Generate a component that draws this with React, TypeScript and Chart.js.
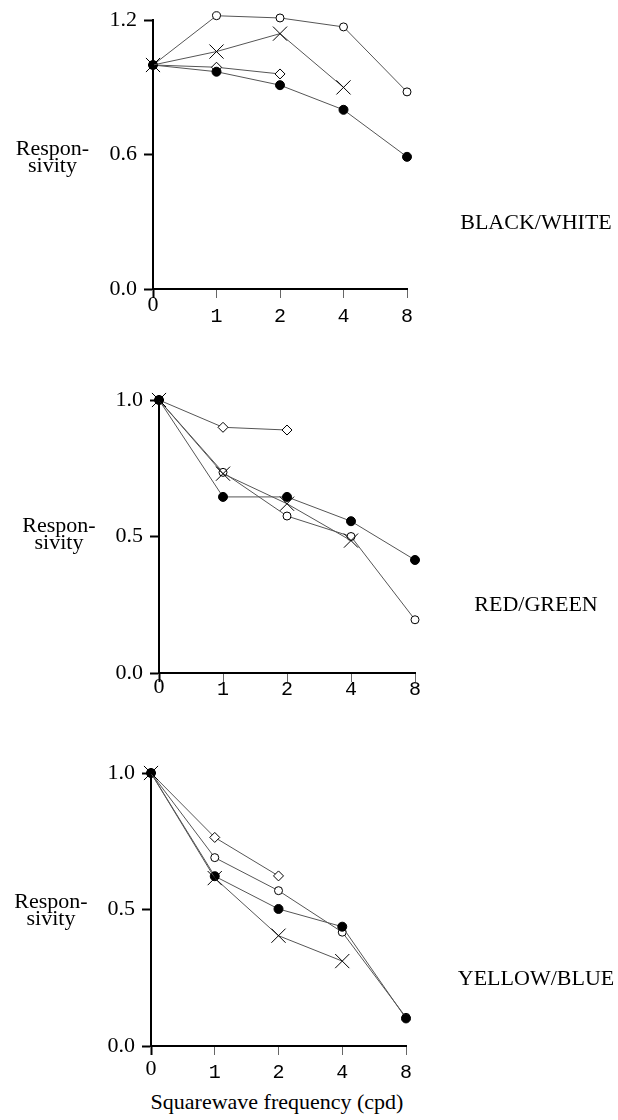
import { useEffect, useRef } from 'react';
import { Chart, registerables } from 'chart.js';

Chart.register(...registerables);

// Spatial frequency categories (cycles per degree)
const frequencies = ['0', '1', '2', '4', '8'];

// BLACK/WHITE responsivity
const bwCross = [1.0, 1.06, 1.14, 0.9, null];
const bwFilled = [1.0, 0.97, 0.91, 0.8, 0.59];
const bwOpen = [1.0, 1.22, 1.21, 1.17, 0.88];
const bwDiamond = [1.0, 0.99, 0.96, null, null];

// RED/GREEN responsivity
const rgCross = [1.0, 0.73, 0.62, 0.485, null];
const rgFilled = [1.0, 0.645, 0.645, 0.556, 0.414];
const rgOpen = [1.0, 0.735, 0.575, 0.5, 0.195];
const rgDiamond = [1.0, 0.9, 0.89, null, null];

// YELLOW/BLUE responsivity
const ybCross = [1.0, 0.615, 0.404, 0.311, null];
const ybFilled = [1.0, 0.622, 0.502, 0.437, 0.101];
const ybOpen = [1.0, 0.69, 0.569, 0.417, 0.105];
const ybDiamond = [1.0, 0.764, 0.623, null, null];

// Y tick values
const bwTicks = [0, 0.6, 1.2];
const colorTicks = [0, 0.5, 1.0];

const SERIF = "'Liberation Serif', 'Times New Roman', serif";
const MONO = "'Liberation Mono', 'Courier New', monospace";

type PanelSpec = {
  title: string;
  series: (number | null)[][];
  yTicks: number[];
  top: number;
  height: number;
  padTop: number;
  axisLeft: number;
  axisRight: number;
  zeroLine: number;
  otherLine: number;
  labelCenterX: number;
  labelBaseline: number;
  titleBaseline: number;
};

const panels: PanelSpec[] = [
  {
    title: 'BLACK/WHITE',
    series: [bwCross, bwFilled, bwOpen, bwDiamond],
    yTicks: bwTicks,
    top: 0, height: 329, padTop: 16,
    axisLeft: 153, axisRight: 407,
    zeroLine: 14, otherLine: 38,
    labelCenterX: 52.5, labelBaseline: 155, titleBaseline: 229.3,
  },
  {
    title: 'RED/GREEN',
    series: [rgCross, rgFilled, rgOpen, rgDiamond],
    yTicks: colorTicks,
    top: 360, height: 353, padTop: 40,
    axisLeft: 159, axisRight: 415,
    zeroLine: 10, otherLine: 16,
    labelCenterX: 59, labelBaseline: 531.7, titleBaseline: 611,
  },
  {
    title: 'YELLOW/BLUE',
    series: [ybCross, ybFilled, ybOpen, ybDiamond],
    yTicks: colorTicks,
    top: 740, height: 346, padTop: 33,
    axisLeft: 151, axisRight: 406,
    zeroLine: 28, otherLine: 36,
    labelCenterX: 51, labelBaseline: 908.3, titleBaseline: 985,
  },
];

const markerStyles = [
  { pointStyle: 'crossRot', pointRadius: 10, pointBackgroundColor: '#000' },
  { pointStyle: 'circle', pointRadius: 4.5, pointBackgroundColor: '#000' },
  { pointStyle: 'circle', pointRadius: 4, pointBackgroundColor: '#fff' },
  { pointStyle: 'rectRot', pointRadius: 5, pointBackgroundColor: '#fff' },
];

function Panel({ spec }: { spec: PanelSpec }) {
  const ref = useRef<HTMLCanvasElement | null>(null);

  useEffect(() => {
    if (!ref.current) return;
    const chart = new Chart(ref.current, {
      type: 'line',
      data: {
        labels: frequencies,
        datasets: spec.series.map((values, i) => ({
          data: values,
          borderColor: '#555',
          borderWidth: 1,
          pointBorderColor: '#000',
          pointBorderWidth: 1,
          tension: 0,
          fill: false,
          clip: false,
          ...markerStyles[i],
        })) as any,
      },
      options: {
        animation: false,
        responsive: false,
        events: [],
        layout: {
          padding: { top: spec.padTop, left: 0, bottom: 0, right: 618 - spec.axisRight },
        },
        plugins: { legend: { display: false }, tooltip: { enabled: false } },
        scales: {
          x: {
            type: 'category',
            offset: false,
            afterFit: (scale: any) => { scale.height = 40; },
            border: { display: true, color: '#000', width: 2 },
            grid: {
              drawOnChartArea: false,
              drawTicks: true,
              tickLength: 9,
              offset: false,
              tickWidth: (ctx: any) => (ctx.index === 0 ? 2 : 1),
              tickColor: (ctx: any) => (ctx.index === 0 ? '#000' : '#666'),
            },
            ticks: {
              padding: 0,
              color: '#000',
              maxRotation: 0,
              autoSkip: false,
              font: (ctx: any) =>
                ctx.index === 0
                  ? { family: SERIF, size: 22, lineHeight: `${spec.zeroLine}px` }
                  : { family: MONO, size: 20, lineHeight: `${spec.otherLine}px` },
            },
          },
          y: {
            min: 0,
            max: spec.yTicks[spec.yTicks.length - 1],
            afterFit: (scale: any) => { scale.width = spec.axisLeft; },
            afterBuildTicks: (scale: any) => {
              scale.ticks = spec.yTicks.map((v) => ({ value: v }));
            },
            border: { display: true, color: '#000', width: 2 },
            grid: {
              drawOnChartArea: false,
              drawTicks: true,
              tickLength: 9,
              tickWidth: 2,
              tickColor: '#000',
            },
            ticks: {
              padding: 7,
              color: '#000',
              font: { family: SERIF, size: 22 },
              callback: (v: any) => Number(v).toFixed(1),
            },
          },
        },
      },
    });
    return () => chart.destroy();
  }, [spec]);

  return (
    <canvas
      ref={ref}
      width={618}
      height={spec.height}
      style={{ position: 'absolute', left: 0, top: spec.top, width: 618, height: spec.height }}
    />
  );
}

const textBase: any = {
  position: 'absolute',
  fontFamily: SERIF,
  fontSize: 22,
  color: '#000',
  textAlign: 'center',
  whiteSpace: 'nowrap',
};

export default function App() {
  return (
    <div style={{ position: 'absolute', left: 0, top: 0, width: 618, height: 1120, background: '#fff' }}>
      {panels.map((p) => (
        <div key={p.title}>
          <Panel spec={p} />
          <div
            style={{
              ...textBase,
              left: p.labelCenterX - 60,
              width: 120,
              top: p.labelBaseline - 15.9,
              lineHeight: '17px',
            }}
          >
            Respon-
            <br />
            sivity
          </div>
          <div
            style={{
              ...textBase,
              left: 436,
              width: 200,
              top: p.titleBaseline - 18.4,
              lineHeight: '22px',
            }}
          >
            {p.title}
          </div>
        </div>
      ))}
      <div
        style={{
          ...textBase,
          left: 127,
          width: 300,
          top: 1109 - 18.4,
          lineHeight: '22px',
        }}
      >
        Squarewave frequency (cpd)
      </div>
    </div>
  );
}
